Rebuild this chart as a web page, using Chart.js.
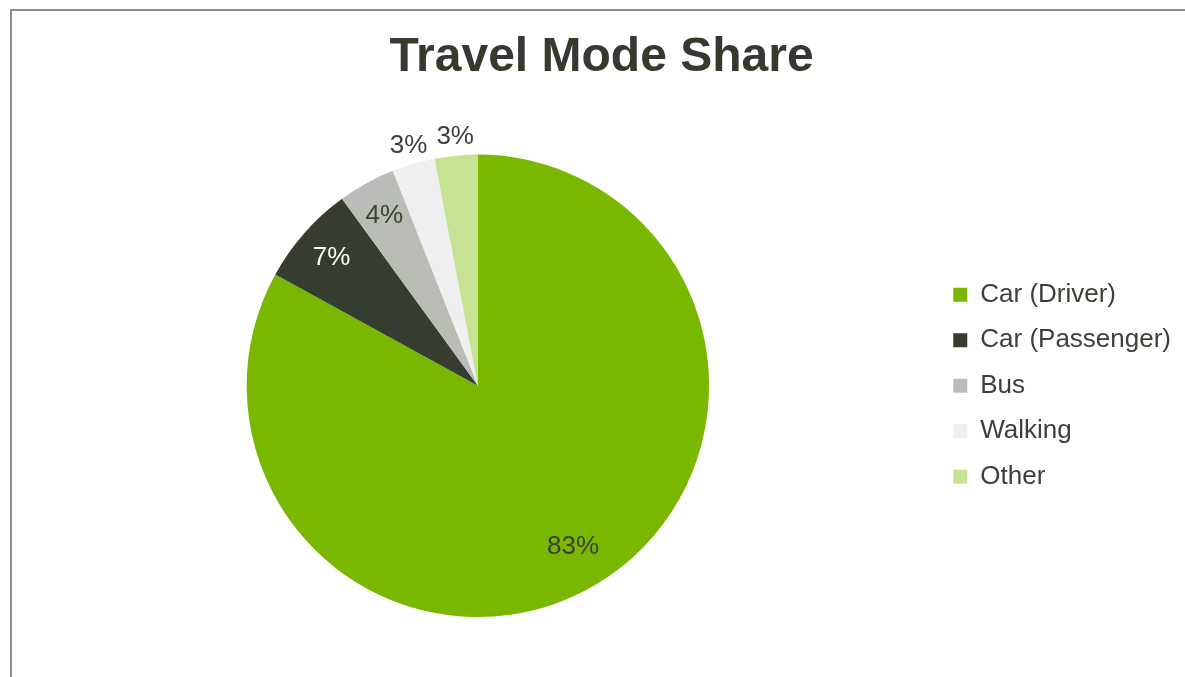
<!DOCTYPE html>
<html>
<head>
<meta charset="utf-8">
<title>Travel Mode Share</title>
<script src="https://cdn.jsdelivr.net/npm/chart.js@4.4.1/dist/chart.umd.min.js"></script>
<style>
  html, body { margin: 0; padding: 0; background: #ffffff; overflow: hidden; }
  /* grey frame: only the top and left edges show */
  #frame { position: absolute; left: 10px; top: 9px; right: 0; bottom: 0; border-top: 2px solid #8c8c8c; border-left: 2px solid #8c8c8c; }
  #mode-share-chart { position: absolute; left: 0; top: 0; }
</style>
</head>
<body>
<div id="frame"></div>
<canvas id="mode-share-chart" width="1185" height="677"></canvas>
<script>
// Data
const modes = ['Car (Driver)', 'Car (Passenger)', 'Bus', 'Walking', 'Other'];
const shares = [83, 7, 4, 3, 3];

// Colours
const modeColours = ['#7ab800', '#353c30', '#b9bdb6', '#efefef', '#c5e392'];
const labelColours = ['#3a4136', '#ffffff', '#3a4136', '#3a4136', '#3a4136'];
const textColour = '#3a4136';

Chart.defaults.font.family = '"Liberation Sans", Arial, sans-serif';

// Percentage labels: inside the bigger slices, just outside the small ones
const percentLabels = {
  id: 'percentLabels',
  afterDatasetsDraw(chart) {
    const ctx = chart.ctx;
    const meta = chart.getDatasetMeta(0);
    ctx.save();
    ctx.font = '26px "Liberation Sans", Arial, sans-serif';
    ctx.textAlign = 'center';
    ctx.textBaseline = 'middle';
    meta.data.forEach((arc, i) => {
      const { x, y, startAngle, endAngle, outerRadius } =
        arc.getProps(['x', 'y', 'startAngle', 'endAngle', 'outerRadius'], true);
      const mid = (startAngle + endAngle) / 2;
      const value = chart.data.datasets[0].data[i];
      let r = outerRadius * 0.85;
      if (value <= 3) r = outerRadius * 1.09;
      else if (value > 50) r = outerRadius * 0.8;
      ctx.fillStyle = labelColours[i];
      // +2 puts the digits' optical centre on the anchor point
      ctx.fillText(value + '%', x + Math.cos(mid) * r + 1, y + Math.sin(mid) * r + 2);
    });
    ctx.restore();
  }
};

const ctx = document.getElementById('mode-share-chart').getContext('2d');
new Chart(ctx, {
  type: 'pie',
  data: {
    labels: modes,
    datasets: [
      {
        data: shares,
        backgroundColor: modeColours,
        borderWidth: 0,
      },
    ],
  },
  options: {
    responsive: false,
    animation: false,
    layout: {
      padding: { top: 0, left: 22, right: 4, bottom: 60 },
    },
    plugins: {
      title: {
        display: true,
        text: 'Travel Mode Share',
        color: '#333b2e',
        font: { size: 48, weight: 'bold' },
        padding: { top: 29, bottom: 68 },
      },
      legend: {
        display: true,
        position: 'right',
        fullSize: false,
        labels: {
          boxWidth: 14,
          boxHeight: 14,
          padding: 19.5,
          color: textColour,
          font: { size: 26 },
        },
      },
      tooltip: { enabled: false },
    },
  },
  plugins: [percentLabels],
});
</script>
</body>
</html>
